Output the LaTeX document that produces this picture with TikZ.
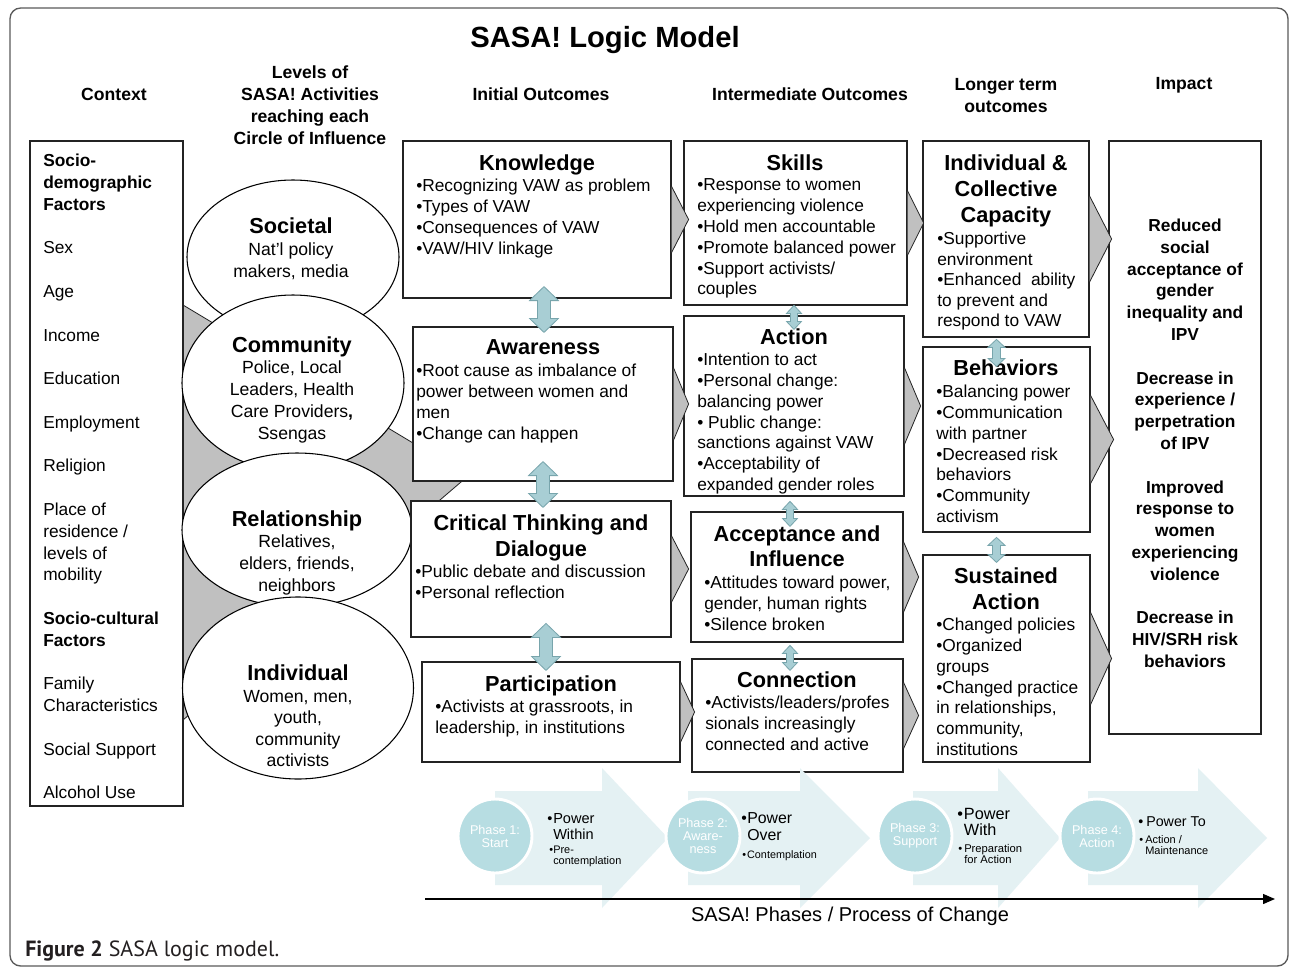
\documentclass[tikz,border=0pt]{standalone}
\usepackage{fontspec}
\setmainfont{Liberation Sans}
\newfontfamily\capfont{PT Sans}
\usetikzlibrary{calc,fit,shapes.geometric,arrows.meta}
\definecolor{chevgray}{RGB}{192,192,192}
\definecolor{dblfill}{RGB}{168,206,212}
\definecolor{dbldraw}{RGB}{120,165,172}
\definecolor{phasearrow}{RGB}{228,241,243}
\definecolor{phasecirc}{RGB}{183,221,226}
\definecolor{framegray}{RGB}{90,90,90}
\definecolor{boxline}{RGB}{35,35,35}
\definecolor{captext}{RGB}{35,31,32}
\newcommand\setfs[2]{\fontsize{#1}{#2}\selectfont}
\newcommand\chev[3]{%
  \fill[chevgray] ($#1+(0,-#2)$) -- ($#1+(#3,0)$) -- ($#1+(0,#2)$) -- cycle;
  \draw[boxline, line width=0.6pt] ($#1+(0,-#2)$) -- ($#1+(#3,0)$) -- ($#1+(0,#2)$);}
\newcommand\dbl[5]{%
  \filldraw[fill=dblfill, draw=dbldraw, line width=0.6pt] #1 -- ($#1+(#3,#5)$) -- ($#1+(#4,#5)$) -- ($#2+(#4,-#5)$) -- ($#2+(#3,-#5)$) -- #2 -- ($#2+(-#3,-#5)$) -- ($#2+(-#4,-#5)$) -- ($#1+(-#4,#5)$) -- ($#1+(-#3,#5)$) -- cycle;}
\newcommand\pharr[3]{\fill[phasearrow] (#1,791) -- (#2,791) -- (#2,768) -- (#3,838) -- (#2,908) -- (#2,885) -- (#1,885) -- cycle;}
\begin{document}
\begin{tikzpicture}[x=0.75pt,y=-0.75pt,
  box/.style={draw=boxline, fill=white, line width=0.9pt, inner sep=0pt},
  ttl/.style={font=\setfs{16.3}{19.5}\bfseries, align=center, inner sep=0pt, anchor=north},
  bod/.style={font=\setfs{13}{15.6}, align=left, inner sep=0pt, anchor=north west},
  hdr/.style={font=\setfs{13.2}{16.5}\bfseries, align=center, inner sep=0pt, anchor=north},
  elltitle/.style={font=\setfs{16.3}{19.5}\bfseries, align=center, inner sep=0pt, anchor=north},
  ellbody/.style={font=\setfs{13.2}{16.4}, align=center, inner sep=0pt, anchor=north},
  oval/.style={ellipse, draw=black, fill=white, line width=0.8pt, inner sep=0pt},
  phcirc/.style={circle, fill=phasecirc, draw=white, line width=2.2pt, minimum size=55.5pt, inner sep=0pt, font=\setfs{9.5}{9.75}, text=white, align=center},
  phtext/.style={anchor=north west, inner sep=0pt, align=left},
]
\useasboundingbox (0,0) rectangle (1290,968);
\fill[white] (0,0) rectangle (1290,968);
\draw[framegray, line width=1pt, rounded corners=8pt] (10,8) rectangle (1288,966);

% title and headers
\node[font=\setfs{21.9}{25}\bfseries, inner sep=0pt, anchor=north] (title) at (605,26.5) {SASA! Logic Model};
\node[hdr] (hctx) at (114,87.7) {Context};
\node[hdr] (hlev) at (310,65.7) {Levels of\\SASA! Activities\\reaching each\\Circle of Influence};
\node[hdr] (hini) at (541,87.7) {Initial Outcomes};
\node[hdr] (hint) at (810,87.7) {Intermediate Outcomes};
\node[hdr] (hlon) at (1006,77.7) {Longer term\\outcomes};
\node[hdr] (himp) at (1184,76.7) {Impact};

% gray funnel behind the circles of influence
\fill[chevgray] (183,305) -- (468,476) -- (183,720) -- cycle;
\draw[boxline, line width=0.6pt] (183,305) -- (468,476) -- (183,720);

% context box
\node[box, fit={(30,141) (183,806)}] (ctx) {};
\node[bod, font=\setfs{13}{16.35}] (ctxT) at (43,153.8) {\textbf{Socio-}\\\textbf{demographic}\\\textbf{Factors}\\[16.35pt]
Sex\\[16.35pt]Age\\[16.35pt]Income\\[16.35pt]Education\\[16.35pt]Employment\\[16.35pt]Religion\\[16.35pt]
Place of\\residence /\\levels of\\mobility\\[16.35pt]\textbf{Socio-cultural}\\\textbf{Factors}\\[16.35pt]
Family\\Characteristics\\[16.35pt]Social Support\\[16.35pt]Alcohol Use};

% circles of influence
\node[oval, minimum width=159pt, minimum height=115.5pt] (soc) at (293,257) {};
\node[oval, minimum width=166.5pt, minimum height=132pt] (com) at (293,383) {};
\node[oval, minimum width=172.5pt, minimum height=115.5pt] (rel) at (297,530) {};
\node[oval, minimum width=173.25pt, minimum height=136.5pt] (ind) at (298,688) {};
\node[elltitle] (socT) at (291,217.2) {Societal};
\node[ellbody, font=\setfs{13.2}{16.1}] (socB) at (291,242.8) {Nat'l policy\\makers, media};
\node[elltitle] (comT) at (292,336.2) {Community};
\node[ellbody] (comB) at (292,360.8) {Police, Local\\Leaders, Health\\Care Providers\textbf{,}\\Ssengas};
\node[elltitle] (relT) at (297,510.2) {Relationship};
\node[ellbody] (relB) at (297,534.8) {Relatives,\\elders, friends,\\neighbors};
\node[elltitle] (indT) at (298,664.2) {Individual};
\node[ellbody, font=\setfs{13.2}{16.2}] (indB) at (298,689.8) {Women, men,\\youth,\\community\\activists};

% initial outcomes
\node[box, fit={(403,141) (671,298)}] (know) {};
\node[box, fit={(413,327) (673,481)}] (awa) {};
\node[box, fit={(411,501) (671,637)}] (crit) {};
\node[box, fit={(422,662) (680,762)}] (part) {};
% intermediate outcomes
\node[box, fit={(684,141) (907,305)}] (skil) {};
\node[box, fit={(684,316) (904,496)}] (act) {};
\node[box, fit={(691,512) (903,642)}] (acc) {};
\node[box, fit={(692,659) (903,772)}] (conn) {};
% longer term
\node[box, fit={(923,141) (1089,337)}] (cap) {};
\node[box, fit={(923,347) (1090,532)}] (beh) {};
\node[box, fit={(923,555) (1090,762)}] (sus) {};
% impact
\node[box, fit={(1109,141) (1261,734)}] (imp) {};

\node[ttl] (knowT) at (537,154.2) {Knowledge};
\node[bod] (knowB) at (416,178.8) {\textbullet Recognizing VAW as problem\\\textbullet Types of VAW\\\textbullet Consequences of VAW\\\textbullet VAW/HIV linkage};
\node[ttl] (awaT) at (543,339.2) {Awareness};
\node[bod] (awaB) at (416,363.8) {\textbullet Root cause as imbalance of\\power between women and\\men\\\textbullet Change can happen};
\node[ttl] (critT) at (541,514.2) {Critical Thinking and\\Dialogue};
\node[bod] (critB) at (415,564.8) {\textbullet Public debate and discussion\\\textbullet Personal reflection};
\node[ttl] (partT) at (551,675.2) {Participation};
\node[bod] (partB) at (435,699.8) {\textbullet Activists at grassroots, in\\leadership, in institutions};

\node[ttl] (skilT) at (795,154.2) {Skills};
\node[bod] (skilB) at (697,178.8) {\textbullet Response to women\\experiencing violence\\\textbullet Hold men accountable\\\textbullet Promote balanced power\\\textbullet Support activists/\\couples};
\node[ttl] (actT) at (794,328.2) {Action};
\node[bod] (actB) at (697,352.8) {\textbullet Intention to act\\\textbullet Personal change:\\balancing power\\\textbullet{} Public change:\\sanctions against VAW\\\textbullet Acceptability of\\expanded gender roles};
\node[ttl, font=\setfs{16.3}{19}\bfseries] (accT) at (797,525.2) {Acceptance and\\Influence};
\node[bod] (accB) at (704,575.8) {\textbullet Attitudes toward power,\\gender, human rights\\\textbullet Silence broken};
\node[ttl] (connT) at (797,671.2) {Connection};
\node[bod] (connB) at (705,695.8) {\textbullet Activists/leaders/profes\\sionals increasingly\\connected and active};

\node[ttl] (capT) at (1006,154.2) {Individual \&\\Collective\\Capacity};
\node[bod, font=\setfs{13}{15.4}] (capB) at (937,231.8) {\textbullet Supportive\\environment\\\textbullet Enhanced\ \ ability\\to prevent and\\respond to VAW};
\node[ttl] (behT) at (1006,359.2) {Behaviors};
\node[bod] (behB) at (936,384.8) {\textbullet Balancing power\\\textbullet Communication\\with partner\\\textbullet Decreased risk\\behaviors\\\textbullet Community\\activism};
\node[ttl] (susT) at (1006,567.2) {Sustained\\Action};
\node[bod] (susB) at (936,617.8) {\textbullet Changed policies\\\textbullet Organized\\groups\\\textbullet Changed practice\\in relationships,\\community,\\institutions};

\node[font=\setfs{13}{16.35}\bfseries, align=center, inner sep=0pt, anchor=north] (impT) at (1185,218.7) {Reduced\\social\\acceptance of\\gender\\inequality and\\IPV\\[16.35pt]Decrease in\\experience /\\perpetration\\of IPV\\[16.35pt]Improved\\response to\\women\\experiencing\\violence\\[16.35pt]Decrease in\\HIV/SRH risk\\behaviors};

% chevrons between columns
\chev{(know.east)}{33}{17}
\chev{(awa.east)}{36}{15}
\chev{(crit.east)}{33}{17}
\chev{(part.east)}{30}{14}
\chev{(skil.east)}{32}{16}
\chev{(act.east)}{38}{16}
\chev{(acc.east)}{35}{15}
\chev{(conn.east)}{33}{15}
\chev{(cap.east)}{43}{22}
\chev{(beh.east)}{44}{23}
\chev{(sus.east)}{46}{21}

% double arrows between stacked boxes
\coordinate (d1t) at ($(awa.north |- know.south)+(1,-12)$);
\coordinate (d1b) at ($(awa.north)+(1,6)$);
\dbl{(d1t)}{(d1b)}{14.5}{6.5}{14}
\coordinate (d2t) at ($(awa.south)+(0,-20)$);
\coordinate (d2b) at ($(awa.south |- crit.north)+(0,7)$);
\dbl{(d2t)}{(d2b)}{14.5}{6.5}{14}
\coordinate (d3t) at ($(part.north -| awa.south)+(3,-38)$);
\coordinate (d3b) at ($(part.north -| awa.south)+(3,9)$);
\dbl{(d3t)}{(d3b)}{14.5}{6.5}{14}
\coordinate (d4t) at ($(act.north)+(0,-10)$);
\coordinate (d4b) at ($(act.north)+(0,14)$);
\dbl{(d4t)}{(d4b)}{7.5}{3.5}{8}
\coordinate (d5t) at ($(acc.north -| act.south)+(-4,-10)$);
\coordinate (d5b) at ($(acc.north -| act.south)+(-4,15)$);
\dbl{(d5t)}{(d5b)}{7.5}{3.5}{8}
\coordinate (d6t) at ($(conn.north -| act.south)+(-4,-13)$);
\coordinate (d6b) at ($(conn.north -| act.south)+(-4,12)$);
\dbl{(d6t)}{(d6b)}{7.5}{3.5}{8}
\coordinate (d7t) at ($(beh.north)+(-10,-7)$);
\coordinate (d7b) at ($(beh.north)+(-10,20)$);
\dbl{(d7t)}{(d7b)}{8.5}{4}{8}
\coordinate (d8t) at ($(sus.north)+(-10,-17)$);
\coordinate (d8b) at ($(sus.north)+(-10,8)$);
\dbl{(d8t)}{(d8b)}{8.5}{4}{8}

% phases
\pharr{495}{602}{668}
\pharr{688}{800}{870}
\pharr{913}{998}{1060}
\pharr{1088}{1198}{1267}
\node[phcirc] (ph1) at (495,836) {Phase 1:\\Start};
\node[phcirc] (ph2) at (703,836) {Phase 2:\\Aware-\\ness};
\node[phcirc] (ph3) at (915,836) {Phase 3:\\Support};
\node[phcirc] (ph4) at (1097,836) {Phase 4:\\Action};

\node[phtext, font=\setfs{10.9}{12}] (p1a) at (547,812.8) {\makebox[4.5pt][l]{\textbullet}Power\\\hspace*{4.5pt}Within};
\node[phtext, font=\setfs{8.2}{8.25}] (p1b) at (549,846) {\makebox[3pt][l]{\textbullet}Pre-\\\hspace*{3pt}contemplation};
\node[phtext, font=\setfs{11.9}{12.75}] (p2a) at (741,812.3) {\makebox[4.5pt][l]{\textbullet}Power\\\hspace*{4.5pt}Over};
\node[phtext, font=\setfs{8.1}{8.25}] (p2b) at (742,850.1) {\makebox[3.7pt][l]{\textbullet}Contemplation};
\node[phtext, font=\setfs{12.2}{12}] (p3a) at (957,808.1) {\makebox[5pt][l]{\textbullet}Power\\\hspace*{5pt}With};
\node[phtext, font=\setfs{8.4}{8.25}] (p3b) at (958,844) {\makebox[4.5pt][l]{\textbullet}Preparation\\\hspace*{4.5pt}for Action};
\node[phtext, font=\setfs{10.7}{12}] (p4a) at (1138,816.9) {\makebox[6pt][l]{\textbullet}Power To};
\node[phtext, font=\setfs{8.25}{8.25}] (p4b) at (1139,835) {\makebox[4.5pt][l]{\textbullet}Action /\\\hspace*{4.5pt}Maintenance};

% timeline
\coordinate (tl0) at (425,899);
\coordinate (tl1) at (1275,899);
\draw[line width=1pt, -{Triangle[length=9pt,width=7.5pt]}] (tl0) -- (tl1);
\node[font=\setfs{15}{18}, inner sep=0pt, anchor=north] (tlab) at (850,906.8) {SASA! Phases / Process of Change};

% caption
\node[font=\capfont\setfs{16.5}{19}, text=captext, inner sep=0pt, anchor=north west] (cap) at (25,941) {\textbf{Figure 2} SASA logic model.};
\end{tikzpicture}
\end{document}
